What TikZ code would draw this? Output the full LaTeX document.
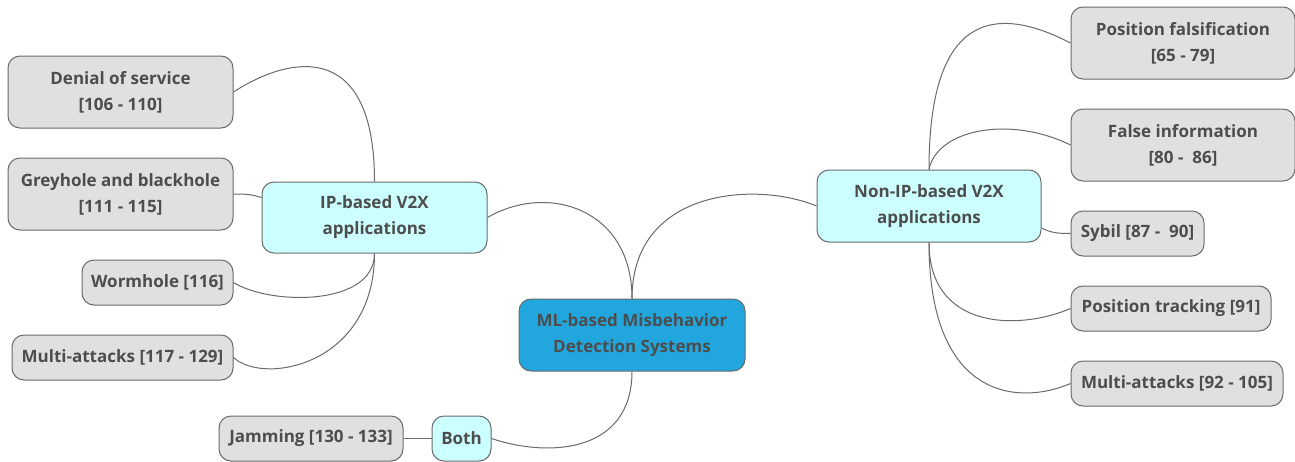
\documentclass[tikz,border=0pt]{standalone}
\usepackage{fontspec}
\setmainfont{Open Sans}
\usetikzlibrary{calc,backgrounds}
\definecolor{txt}{HTML}{4D4D4D}
\definecolor{edge}{HTML}{6A6A6A}
\definecolor{greyfill}{HTML}{E0E0E0}
\definecolor{cyanfill}{HTML}{CCFFFF}
\definecolor{bluefill}{HTML}{22A6DE}
\tikzset{
  box/.style={draw=edge, line width=1pt, rounded corners=12pt, inner sep=0pt,
    align=center, text=txt, font=\bfseries\fontsize{17}{26}\selectfont},
  leaf/.style={box, fill=greyfill},
  branch/.style={box, fill=cyanfill},
  rootbox/.style={box, fill=bluefill},
  conn/.style={draw=edge, line width=1pt}
}
\begin{document}
\begin{tikzpicture}[x=1pt,y=-1pt]
\useasboundingbox (0,0) rectangle (1295,461);
% nodes
\node[rootbox, minimum width=226pt, minimum height=72pt] (root) at (632,335) {ML-based Misbehavior\\Detection Systems};
\node[branch, minimum width=225pt, minimum height=71pt] (ip) at (374.5,217.5) {IP-based V2X\\applications};
\node[branch, minimum width=224pt, minimum height=72pt] (nonip) at (929,206) {Non-IP-based V2X\\applications};
\node[branch, minimum width=59pt, minimum height=45pt] (both) at (461.5,438.5) {Both};
\node[leaf, minimum width=225pt, minimum height=72pt] (dos) at (120.5,92) {Denial of service\\{}[106 - 110]};
\node[leaf, minimum width=225pt, minimum height=72pt] (grey) at (120.5,194) {Greyhole and blackhole\\{}[111 - 115]};
\node[leaf, minimum width=151pt, minimum height=45pt] (worm) at (157.5,282.5) {Wormhole [116]};
\node[leaf, minimum width=221pt, minimum height=45pt] (multiL) at (122.5,357.5) {Multi-attacks [117 - 129]};
\node[leaf, minimum width=184pt, minimum height=45pt] (jam) at (311,438.5) {Jamming [130 - 133]};
\node[leaf, minimum width=224pt, minimum height=72pt] (pf) at (1183,43) {Position falsification\\{}[65 - 79]};
\node[leaf, minimum width=224pt, minimum height=72pt] (fi) at (1183,145) {False information\\{}[80 -\ \ 86]};
\node[leaf, minimum width=133pt, minimum height=45pt] (sybil) at (1137.5,233.5) {Sybil [87 -\ \ 90]};
\node[leaf, minimum width=200pt, minimum height=45pt] (pt) at (1171,308.5) {Position tracking [91]};
\node[leaf, minimum width=212pt, minimum height=45pt] (multiR) at (1177,383.5) {Multi-attacks [92 - 105]};
% connectors
\begin{scope}[on background layer]
\draw[conn] (root.north) .. controls +(0,-90) and +(60,-35) .. (ip.east);
\draw[conn] (root.north) .. controls +(0,-110) and +(-60,-25) .. (nonip.west);
\draw[conn] (root.south) .. controls +(0,80) and +(60,20) .. (both.east);
\draw[conn] (jam.east) -- (both.west);
\draw[conn] (ip.north) .. controls +(0,-142) and +(57,-37) .. (dos.east);
\draw[conn] (grey.east) .. controls +(15,0) and +(-10,-3) .. ($(ip.west)+(0,-20)$);
\draw[conn] (ip.south) .. controls +(0,53) and +(37,23) .. (worm.east);
\draw[conn] (ip.south) .. controls +(0,112) and +(30,28) .. (multiL.east);
\draw[conn] (nonip.north) .. controls +(0,-150) and +(-81,-42) .. (pf.west);
\draw[conn] (nonip.north) .. controls +(8,-40) and +(-61,-30) .. (fi.west);
\draw[conn] ($(nonip.east)+(0,22)$) .. controls +(10,5) and +(-12,0) .. (sybil.west);
\draw[conn] (nonip.south) .. controls +(0,88) and +(-51,22) .. (pt.west);
\draw[conn] (nonip.south) .. controls +(0,158) and +(-51,22) .. (multiR.west);
\end{scope}
\end{tikzpicture}
\end{document}
